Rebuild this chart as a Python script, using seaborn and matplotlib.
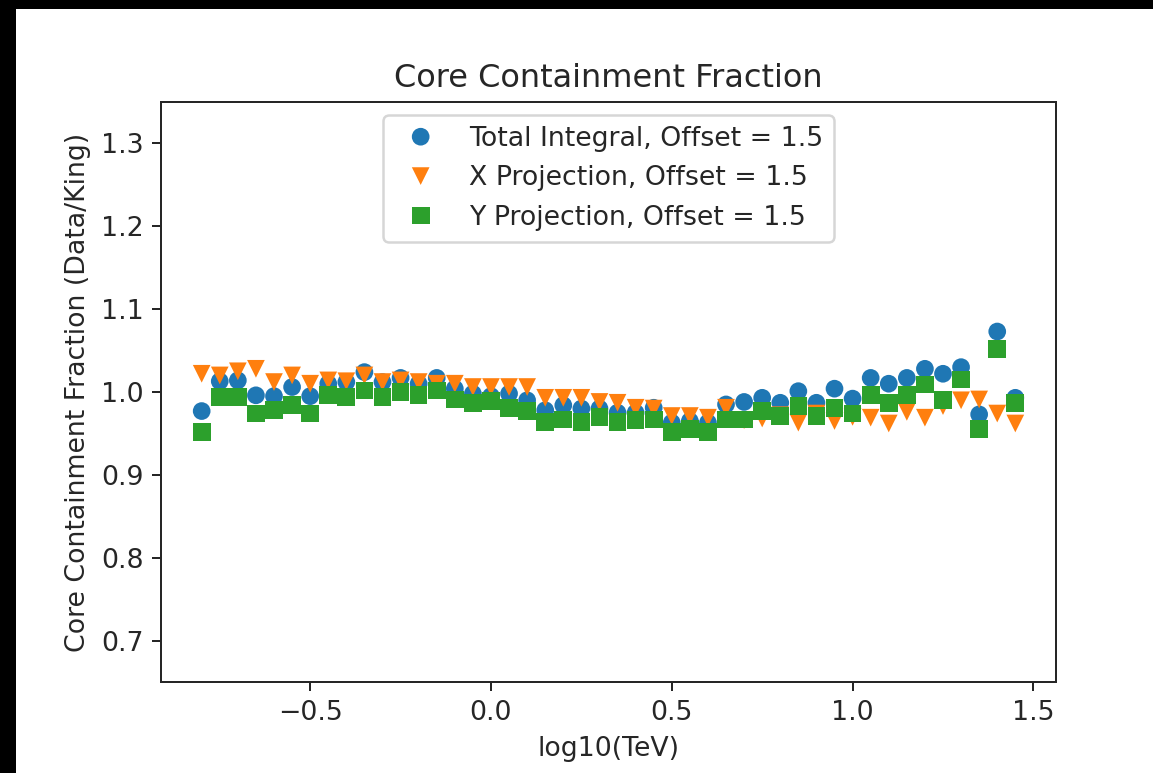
import numpy as np
import pandas as pd
import matplotlib
matplotlib.use("Agg")
import matplotlib.pyplot as plt
from matplotlib.patches import Rectangle
import seaborn as sns

# Energy bins, log10(E / TeV)
log_energy = np.round(np.arange(-0.8, 1.45 + 1e-9, 0.05), 2)

# Core containment ratios (data / King function), offset 1.5 deg
total_integral = [0.977, 1.013, 1.014, 0.996, 0.995, 1.006, 0.995, 1.010, 1.012, 1.024,
                  1.012, 1.017, 1.010, 1.017, 1.004, 0.998, 0.995, 0.998, 0.990, 0.978,
                  0.984, 0.980, 0.980, 0.975, 0.975, 0.981, 0.963, 0.965, 0.963, 0.985,
                  0.988, 0.993, 0.987, 1.001, 0.987, 1.004, 0.992, 1.017, 1.010, 1.017,
                  1.028, 1.022, 1.030, 0.973, 1.073, 0.993]
x_projection = [1.022, 1.020, 1.025, 1.028, 1.012, 1.020, 1.010, 1.014, 1.013, 1.020,
                1.012, 1.014, 1.012, 1.010, 1.010, 1.006, 1.006, 1.006, 1.006, 0.993,
                0.993, 0.993, 0.988, 0.987, 0.981, 0.980, 0.971, 0.971, 0.969, 0.981,
                0.966, 0.968, 0.972, 0.963, 0.974, 0.965, 0.970, 0.969, 0.962, 0.976,
                0.969, 0.983, 0.990, 0.991, 0.974, 0.962]
y_projection = [0.952, 0.994, 0.994, 0.974, 0.978, 0.984, 0.974, 0.996, 0.994, 1.002,
                0.994, 1.000, 0.996, 1.002, 0.991, 0.987, 0.989, 0.981, 0.977, 0.964,
                0.967, 0.964, 0.970, 0.964, 0.966, 0.967, 0.952, 0.955, 0.952, 0.967,
                0.967, 0.977, 0.971, 0.983, 0.971, 0.981, 0.974, 0.996, 0.987, 0.996,
                1.009, 0.990, 1.015, 0.955, 1.052, 0.987]

series_labels = ["Total Integral, Offset = 1.5",
                 "X Projection, Offset = 1.5",
                 "Y Projection, Offset = 1.5"]
series_values = [total_integral, x_projection, y_projection]
series_markers = ["o", "v", "s"]
series_colors = ["#1f77b4", "#ff7f0e", "#2ca02c"]

TEXT = "#262626"
plt.rcParams.update({"text.color": TEXT, "axes.labelcolor": TEXT,
                     "xtick.color": TEXT, "ytick.color": TEXT,
                     "axes.edgecolor": "#262626"})

W, H, DPI = 1153, 773, 180
fig = plt.figure(figsize=(W / DPI, H / DPI), dpi=DPI, facecolor="black")
fig.add_artist(Rectangle((16 / W, 0), 1, (H - 9) / H, transform=fig.transFigure,
                         facecolor="white", edgecolor="none", zorder=-1))

ax = fig.add_axes([161 / W, (H - 682) / H, 895 / W, 580 / H])

for label, vals, mk, col in zip(series_labels, series_values, series_markers, series_colors):
    df = pd.DataFrame({"log10(TeV)": log_energy, "ratio": vals})
    sns.scatterplot(data=df, x="log10(TeV)", y="ratio", marker=mk, color=col,
                    s=50, linewidth=0, edgecolor="none", label=label, ax=ax)

FS = 10.7
ax.set_ylim(0.65, 1.35)
ax.set_title("Core Containment Fraction", fontsize=12.8)
ax.set_xlabel("log10(TeV)", fontsize=FS)
ax.set_ylabel("Core Containment Fraction (Data/King)", fontsize=FS)
ax.tick_params(labelsize=FS)
ax.legend(loc="upper center", scatteryoffsets=[0.5], fontsize=FS)

fig.savefig("out.png", dpi=DPI, facecolor=fig.get_facecolor())
